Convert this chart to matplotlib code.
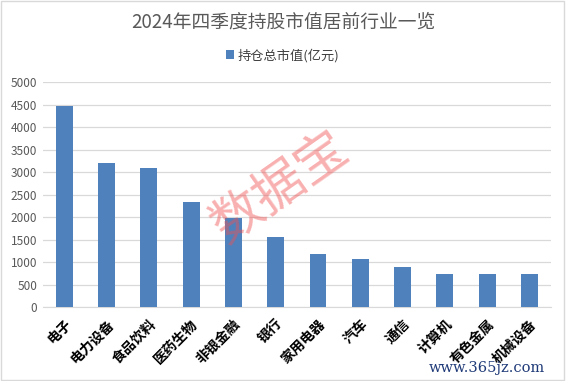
import matplotlib
matplotlib.use("Agg")
import matplotlib.pyplot as plt
from matplotlib.patches import Rectangle

plt.rcParams['font.family'] = ['Noto Sans CJK SC', 'DejaVu Sans']

categories = ["电子", "电力设备", "食品饮料", "医药生物", "非银金融", "银行",
              "家用电器", "汽车", "通信", "计算机", "有色金属", "机械设备"]
values = [4470, 3200, 3090, 2340, 1990, 1560, 1180, 1070, 890, 740, 740, 735]
yticks = [0, 500, 1000, 1500, 2000, 2500, 3000, 3500, 4000, 4500, 5000]
title = "2024年四季度持股市值居前行业一览"
series_name = "持仓总市值(亿元)"

fig = plt.figure(figsize=(5.66, 3.81), dpi=100)
ax = fig.add_axes([0.076, 0.194, 0.897, 0.590])
x = list(range(len(categories)))
ax.bar(x, values, width=0.4, color="#4f81bd", zorder=3, label=series_name)
ax.set_xlim(-0.5, len(categories) - 0.5)
ax.set_ylim(0, 5000)
ax.set_yticks(yticks)
ax.set_yticklabels([str(v) for v in yticks], fontsize=8.5, color="#595959")
ax.set_xticks(x)
ax.set_xticklabels(categories, rotation=45, ha="right", va="top", rotation_mode="anchor",
                   fontsize=10, fontweight="bold", color="black")
ax.tick_params(axis="both", length=0, pad=4)
ax.tick_params(axis="x", pad=7)
ax.grid(axis="y", color="#d9d9d9", linewidth=0.9, zorder=0)
for s in ["top", "right", "left"]:
    ax.spines[s].set_visible(False)
ax.spines["bottom"].set_color("#d9d9d9")

fig.text(0.5, 0.942, title, ha="center", va="center", fontsize=13.5, color="#595959")
leg = fig.legend(loc="center", bbox_to_anchor=(0.5, 0.855), frameon=False, fontsize=9.5,
                 handlelength=0.6, handleheight=0.6, handletextpad=0.3)
for t in leg.get_texts():
    t.set_color("#404040")

# watermark texts
fig.text(0.495, 0.507, "数据宝", ha="center", va="center", fontsize=37, color="#f05050",
         alpha=0.45, rotation=35, fontweight="light", zorder=10)
fig.text(0.86, 0.035, "www.365jz.com", ha="center", va="center", fontsize=10.5,
         color="#1f3a78", family=["DejaVu Serif"])

fig.patches.append(Rectangle((0.002, 0.003), 0.995, 0.994, transform=fig.transFigure,
                             fill=False, edgecolor="#d9d9d9", linewidth=1))
fig.savefig("out.png", dpi=100)
